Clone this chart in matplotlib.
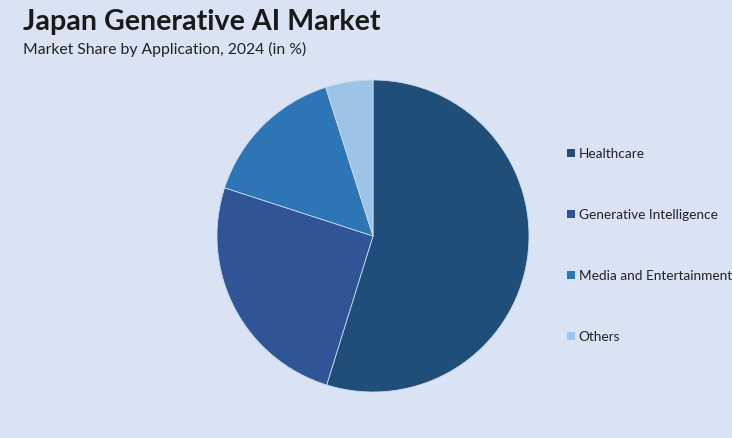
import matplotlib
matplotlib.use("Agg")
import matplotlib.pyplot as plt
from matplotlib.patches import Patch

categories = ["Healthcare", "Generative Intelligence", "Media and Entertainment", "Others"]
shares = [54.8, 25.2, 15.1, 4.9]
colors = ["#1F4E79", "#2F5597", "#2E75B6", "#9DC3E6"]
bg = "#DAE3F3"

plt.rcParams['font.family'] = ['Lato', 'DejaVu Sans']

fig = plt.figure(figsize=(7.32, 4.39), dpi=100)
fig.patch.set_facecolor(bg)

# pie axes: centre ~ (373, 237) px, radius ~156 px
ax = fig.add_axes([217 / 732, 46 / 439, 312 / 732, 312 / 439])
ax.set_facecolor(bg)
ax.pie(shares, colors=colors, startangle=90, counterclock=False, radius=1,
       wedgeprops=dict(edgecolor="#C9D8EE", linewidth=0.6))
ax.set_xlim(-1, 1)
ax.set_ylim(-1, 1)
ax.set_aspect("equal")
ax.axis("off")

fig.text(23 / 732, 1 - 22 / 439, "Japan Generative AI Market", fontsize=20.6,
         fontweight="bold", color="#1a1a1a", va="center", ha="left")
fig.text(23 / 732, 1 - 49 / 439, "Market Share by Application, 2024 (in %)",
         fontsize=11.3, color="#222222", va="center", ha="left")

handles = [Patch(facecolor=c, edgecolor="none") for c in colors]
fig.legend(handles, categories, loc="center left",
           bbox_to_anchor=(555 / 732, 1 - 246 / 439), frameon=False,
           fontsize=9.8, handlelength=0.55, handleheight=0.55, handletextpad=0.3,
           labelspacing=3.6, labelcolor="#222222")

fig.savefig("out.png", dpi=100, facecolor=bg)
